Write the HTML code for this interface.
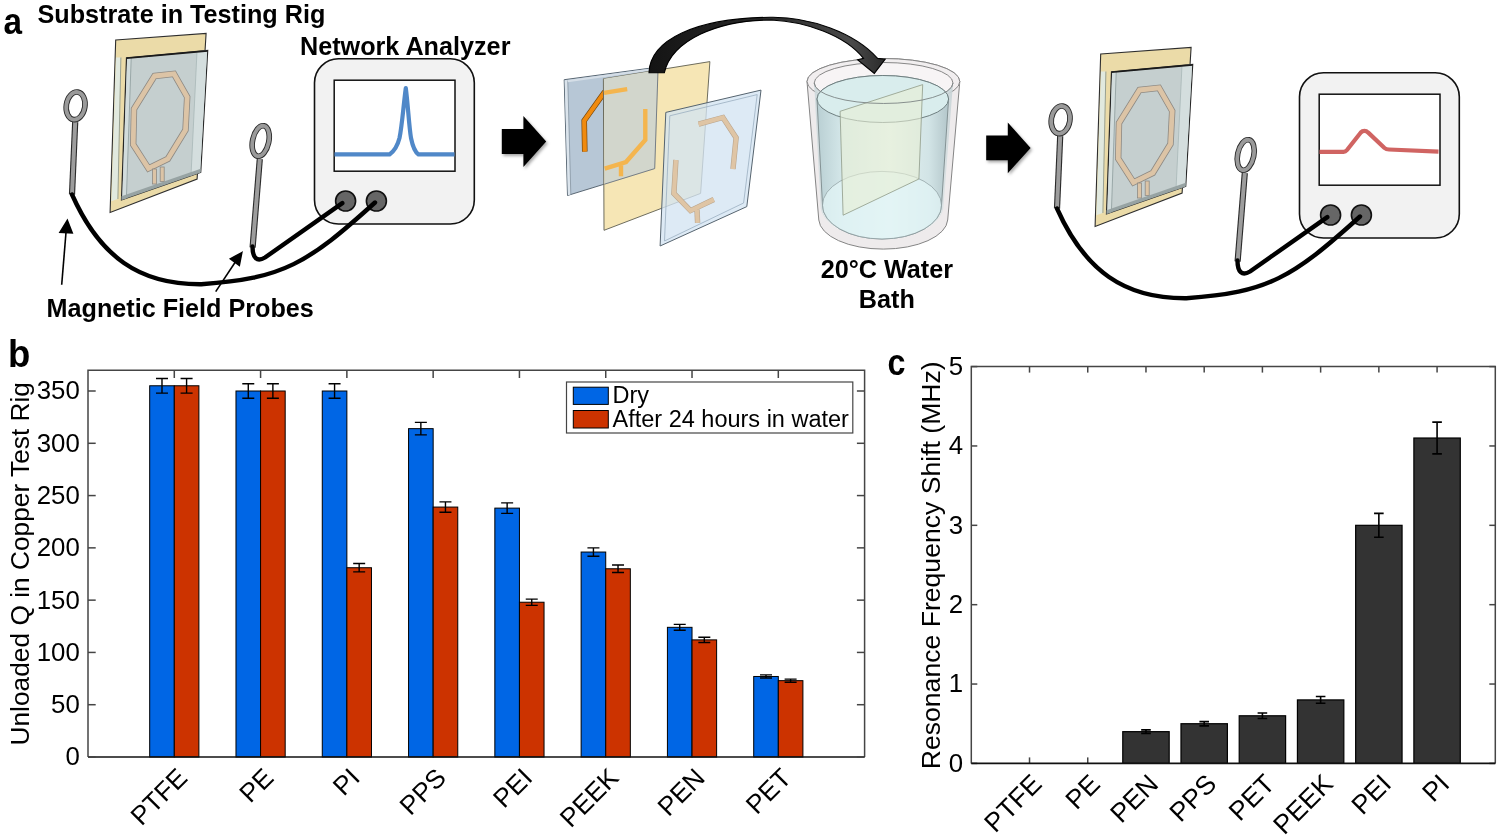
<!DOCTYPE html>
<html><head><meta charset="utf-8"><title>Figure</title>
<style>
html,body{margin:0;padding:0;background:#fff;width:1500px;height:839px;overflow:hidden}
svg{display:block;font-family:"Liberation Sans", sans-serif;will-change:transform}
</style></head><body>
<svg width="1500" height="839" viewBox="0 0 1500 839">
<defs>
<filter id="sh" x="-20%" y="-20%" width="150%" height="150%"><feDropShadow dx="1.5" dy="2" stdDeviation="1.5" flood-color="#000" flood-opacity="0.35"/></filter>
<linearGradient id="water" x1="0" y1="0" x2="1" y2="0">
 <stop offset="0" stop-color="#b9cfd3"/><stop offset="0.2" stop-color="#d5e8ea"/><stop offset="0.55" stop-color="#e6f4f2"/><stop offset="0.85" stop-color="#d2e4e6"/><stop offset="1" stop-color="#b3c6ca"/>
</linearGradient>
<linearGradient id="wall" x1="0" y1="0" x2="1" y2="0">
 <stop offset="0" stop-color="#c9d6d9"/><stop offset="0.15" stop-color="#eef2f2"/><stop offset="0.85" stop-color="#eef2f2"/><stop offset="1" stop-color="#c5d2d5"/>
</linearGradient>
<linearGradient id="arrowg" x1="649" y1="0" x2="886" y2="0" gradientUnits="userSpaceOnUse">
 <stop offset="0" stop-color="#141414"/><stop offset="0.5" stop-color="#2a2a2a"/><stop offset="0.85" stop-color="#4a4a4a"/><stop offset="1" stop-color="#2a2a2a"/>
</linearGradient>
</defs>
<rect width="1500" height="839" fill="#fff"/>
<g transform="translate(0,0)">
<polygon points="115.7,40 206.1,33.4 197.1,179 110.1,212.4" fill="#ebdba8" stroke="#2e2e2e" stroke-width="1.1"/>
<polygon points="116,57.5 120.6,57.5 117.6,199 111.4,201.2" fill="#e1e9df"/>
<line x1="120.9" y1="57.5" x2="117.9" y2="199" stroke="#8f9a90" stroke-width="0.9"/>
<polygon points="126.5,57.8 207.7,50.4 200.7,172.4 121.5,199.9" fill="#c5cfcf" stroke="#262626" stroke-width="1.2"/>
<polygon points="127.2,58 131.2,57.7 126.4,198.2 122.3,199.5" fill="#d2dcdc"/>
<line x1="131.2" y1="58" x2="126.4" y2="198" stroke="#8d9c9c" stroke-width="0.8"/>
<polygon points="197,51.3 207.2,50.5 200.2,172.2 191,175.6" fill="#d4dede"/>
<line x1="197" y1="51.3" x2="191" y2="175.6" stroke="#a3b3b3" stroke-width="0.7"/>
<line x1="126.5" y1="58.3" x2="207.7" y2="50.9" stroke="#1a1a1a" stroke-width="1.6"/>
<polygon points="121.5,196.3 200.7,168.8 200.7,172.4 121.5,199.9" fill="#97a3a3"/>
<polygon points="154.5,76 174,73.8 187.2,97 185.5,130 167.8,159 148.5,168.4 133.2,144.5 134,109" fill="none" stroke="#8e8a84" stroke-width="6.4" stroke-linejoin="miter"/>
<polygon points="154.5,76 174,73.8 187.2,97 185.5,130 167.8,159 148.5,168.4 133.2,144.5 134,109" fill="none" stroke="#dcc4a6" stroke-width="4.8" stroke-linejoin="miter"/>
<rect x="152.5" y="169" width="4" height="15" fill="#dcc4a6" stroke="#8e8a84" stroke-width="0.8"/>
<rect x="160.2" y="167" width="4" height="14.5" fill="#dcc4a6" stroke="#8e8a84" stroke-width="0.8"/>
</g>
<g transform="translate(0,0)">
<line x1="75.2" y1="122" x2="72" y2="194.5" stroke="#2a2a2a" stroke-width="6.2"/>
<line x1="75.2" y1="122" x2="72" y2="194.5" stroke="#9d9d9d" stroke-width="4"/>
<ellipse cx="75.6" cy="105.8" rx="9.3" ry="13.900000000000002" transform="rotate(9 75.6 105.8)" fill="none" stroke="#2a2a2a" stroke-width="5.6"/>
<ellipse cx="75.6" cy="105.8" rx="9.3" ry="13.900000000000002" transform="rotate(9 75.6 105.8)" fill="none" stroke="#9a9a9a" stroke-width="3.8"/>
<line x1="259.8" y1="159" x2="252.6" y2="247.5" stroke="#2a2a2a" stroke-width="6.2"/>
<line x1="259.8" y1="159" x2="252.6" y2="247.5" stroke="#9d9d9d" stroke-width="4"/>
<ellipse cx="260.7" cy="141" rx="8.100000000000001" ry="15.5" transform="rotate(12 260.7 141)" fill="none" stroke="#2a2a2a" stroke-width="5.6"/>
<ellipse cx="260.7" cy="141" rx="8.100000000000001" ry="15.5" transform="rotate(12 260.7 141)" fill="none" stroke="#9a9a9a" stroke-width="3.8"/>
</g>
<g transform="translate(0,0)">
<rect x="314.5" y="58.8" width="159.8" height="165.2" rx="24" ry="24" fill="#f2f2f2" stroke="#111" stroke-width="1.6"/>
<rect x="334.2" y="80.2" width="120.8" height="91" fill="#fff" stroke="#111" stroke-width="1.5"/>
<path d="M334.5,154.4 L389.5,154.4 C393,152 397,148 399.5,138 C402,126 403.5,105 405.8,88 C408,105 409,126 411,138 C413,148 415,152 418.5,154.4 L454.5,154.4" fill="none" stroke="#5088c8" stroke-width="4.2" stroke-linejoin="round" stroke-linecap="butt"/>
<circle cx="345.6" cy="201" r="10" fill="#666" stroke="#111" stroke-width="1.6"/>
<circle cx="376.4" cy="201" r="10" fill="#666" stroke="#111" stroke-width="1.6"/>
</g>
<g transform="translate(0,0)" fill="none" stroke="#000" stroke-width="4.4" stroke-linecap="round" stroke-linejoin="round">
<path d="M72,194.5 C99.8,256.9 139.6,284.7 201.3,284.2 C283.2,278.7 307.6,263.4 375,202.5"/>
<path d="M252.5,246.5 C252.5,258 257,262.5 265,257.5 L342.3,203.1"/>
</g>
<g transform="translate(985,14)">
<polygon points="115.7,40 206.1,33.4 197.1,179 110.1,212.4" fill="#ebdba8" stroke="#2e2e2e" stroke-width="1.1"/>
<polygon points="116,57.5 120.6,57.5 117.6,199 111.4,201.2" fill="#e1e9df"/>
<line x1="120.9" y1="57.5" x2="117.9" y2="199" stroke="#8f9a90" stroke-width="0.9"/>
<polygon points="126.5,57.8 207.7,50.4 200.7,172.4 121.5,199.9" fill="#c5cfcf" stroke="#262626" stroke-width="1.2"/>
<polygon points="127.2,58 131.2,57.7 126.4,198.2 122.3,199.5" fill="#d2dcdc"/>
<line x1="131.2" y1="58" x2="126.4" y2="198" stroke="#8d9c9c" stroke-width="0.8"/>
<polygon points="197,51.3 207.2,50.5 200.2,172.2 191,175.6" fill="#d4dede"/>
<line x1="197" y1="51.3" x2="191" y2="175.6" stroke="#a3b3b3" stroke-width="0.7"/>
<line x1="126.5" y1="58.3" x2="207.7" y2="50.9" stroke="#1a1a1a" stroke-width="1.6"/>
<polygon points="121.5,196.3 200.7,168.8 200.7,172.4 121.5,199.9" fill="#97a3a3"/>
<polygon points="154.5,76 174,73.8 187.2,97 185.5,130 167.8,159 148.5,168.4 133.2,144.5 134,109" fill="none" stroke="#8e8a84" stroke-width="6.4" stroke-linejoin="miter"/>
<polygon points="154.5,76 174,73.8 187.2,97 185.5,130 167.8,159 148.5,168.4 133.2,144.5 134,109" fill="none" stroke="#dcc4a6" stroke-width="4.8" stroke-linejoin="miter"/>
<rect x="152.5" y="169" width="4" height="15" fill="#dcc4a6" stroke="#8e8a84" stroke-width="0.8"/>
<rect x="160.2" y="167" width="4" height="14.5" fill="#dcc4a6" stroke="#8e8a84" stroke-width="0.8"/>
</g>
<g transform="translate(985,14)">
<line x1="75.2" y1="122" x2="72" y2="194.5" stroke="#2a2a2a" stroke-width="6.2"/>
<line x1="75.2" y1="122" x2="72" y2="194.5" stroke="#9d9d9d" stroke-width="4"/>
<ellipse cx="75.6" cy="105.8" rx="9.3" ry="13.900000000000002" transform="rotate(9 75.6 105.8)" fill="none" stroke="#2a2a2a" stroke-width="5.6"/>
<ellipse cx="75.6" cy="105.8" rx="9.3" ry="13.900000000000002" transform="rotate(9 75.6 105.8)" fill="none" stroke="#9a9a9a" stroke-width="3.8"/>
<line x1="259.8" y1="159" x2="252.6" y2="247.5" stroke="#2a2a2a" stroke-width="6.2"/>
<line x1="259.8" y1="159" x2="252.6" y2="247.5" stroke="#9d9d9d" stroke-width="4"/>
<ellipse cx="260.7" cy="141" rx="8.100000000000001" ry="15.5" transform="rotate(12 260.7 141)" fill="none" stroke="#2a2a2a" stroke-width="5.6"/>
<ellipse cx="260.7" cy="141" rx="8.100000000000001" ry="15.5" transform="rotate(12 260.7 141)" fill="none" stroke="#9a9a9a" stroke-width="3.8"/>
</g>
<g transform="translate(985,14)">
<rect x="314.5" y="58.8" width="159.8" height="165.2" rx="24" ry="24" fill="#f2f2f2" stroke="#111" stroke-width="1.6"/>
<rect x="334.2" y="80.2" width="120.8" height="91" fill="#fff" stroke="#111" stroke-width="1.5"/>
<path d="M334.5,137.8 L358.5,137.8 Q360.5,137.8 362,136 L375.8,118.5 Q377.2,116.9 379.5,116.9 Q381.5,116.9 383,118.4 L399.5,134 Q401.2,135.4 404,135.5 L453.5,137.6" fill="none" stroke="#d06462" stroke-width="4.2" stroke-linejoin="round" stroke-linecap="butt"/>
<circle cx="345.6" cy="201" r="10" fill="#666" stroke="#111" stroke-width="1.6"/>
<circle cx="376.4" cy="201" r="10" fill="#666" stroke="#111" stroke-width="1.6"/>
</g>
<g transform="translate(985,14)" fill="none" stroke="#000" stroke-width="4.4" stroke-linecap="round" stroke-linejoin="round">
<path d="M72,194.5 C99.8,256.9 139.6,284.7 201.3,284.2 C283.2,278.7 307.6,263.4 375,202.5"/>
<path d="M252.5,246.5 C252.5,258 257,262.5 265,257.5 L342.3,203.1"/>
</g>
<g stroke="#000" stroke-width="1.6" fill="#000">
<line x1="61.7" y1="284.8" x2="66.2" y2="230"/>
<polygon points="67.3,220.3 60,232.3 72.2,232.8"/>
<line x1="215.7" y1="291.6" x2="236" y2="261"/>
<polygon points="241.8,252.6 230.4,258.8 239.3,265.4"/>
</g>
<g filter="url(#sh)">
<polygon points="501.8,129.1 523.4,129.1 523.4,116.1 546.2,141.5 523.4,166.9 523.4,153.9 501.8,153.9" fill="#000"/>
<polygon points="986.2,135.5 1007.8000000000001,135.5 1007.8000000000001,122.5 1030.6000000000001,147.9 1007.8000000000001,173.3 1007.8000000000001,160.3 986.2,160.3" fill="#000"/>
</g>

<g>
 <polygon points="564.2,79.7 658,67.1 654.7,168.6 567.5,195.5" fill="#b7c7d6" stroke="#5a6874" stroke-width="1"/>
 <polygon points="564.6,80.2 567.6,80 570.6,194.6 567.9,195.3" fill="#dbe4ec"/>
 <line x1="567.8" y1="80.5" x2="570.8" y2="194.5" stroke="#7f8e9b" stroke-width="0.7"/>
 <polygon points="567.6,80 658,67.6 658,69.6 567.8,82.2" fill="#d5dee7"/>
 <g fill="none" stroke-linejoin="miter">
  <polyline points="627.2,89.2 604,92.9 584.2,120.7 584.8,151.6" stroke="#7a4a10" stroke-width="5.6"/>
  <polyline points="627.2,89.2 604,92.9 584.2,120.7 584.8,151.6" stroke="#f08a0e" stroke-width="4.2"/>
  <polyline points="645.3,109 645.3,139.9 626,162 604.7,168.6" stroke="#f08a0e" stroke-width="4.6"/>
  <polyline points="621,165.3 621,176.3" stroke="#f08a0e" stroke-width="4.6"/>
 </g>
 <polygon points="603.4,78.8 709.9,61.6 700.6,193.4 604,230.3" fill="#f5e3ad" fill-opacity="0.9" stroke="#5d5d50" stroke-width="0.9"/>
 <polygon points="603.9,78.8 658,70.1 654.7,168.6 604.4,184.2" fill="#d2d6cc"/>
 <g fill="none" stroke="#f4b54e" stroke-width="4.4">
  <polyline points="604,92.9 627.2,89.2"/>
  <polyline points="645.3,109 645.3,139.9 626,162 604.7,168.6"/>
  <polyline points="621,165.3 621,176.3"/>
 </g>
 <line x1="658" y1="70.1" x2="654.7" y2="168.6" stroke="#6a7480" stroke-width="0.9"/>
 <line x1="654.7" y1="168.6" x2="604.4" y2="184.2" stroke="#6a7480" stroke-width="0.9"/>
 <polygon points="665.8,112.4 761,90.1 746.8,206.6 660.1,246" fill="#d3e4f2" fill-opacity="0.78" stroke="#56646f" stroke-width="1"/>
 <polygon points="669.8,115.8 757.2,94.6 743.6,203 664.5,241" fill="none" stroke="#9aaec0" stroke-width="0.8"/>
 <g fill="none" stroke-linejoin="miter">
  <polyline points="698.6,124.1 722.9,117.5 736.1,137.7 733,169.1" stroke="#b9a58e" stroke-width="5.4"/>
  <polyline points="675.9,160 673.9,193.4 690.5,210.6 713.8,199.5" stroke="#b9a58e" stroke-width="5.4"/>
  <polyline points="697,209.6 697.6,222.8" stroke="#b9a58e" stroke-width="5.4"/>
  <polyline points="698.6,124.1 722.9,117.5 736.1,137.7 733,169.1" stroke="#dfc5a5" stroke-width="4.2"/>
  <polyline points="675.9,160 673.9,193.4 690.5,210.6 713.8,199.5" stroke="#dfc5a5" stroke-width="4.2"/>
  <polyline points="697,209.6 697.6,222.8" stroke="#dfc5a5" stroke-width="4.2"/>
 </g>
</g>


<g>
 <path d="M807,81.5 L818.8,220 A64.5,30.3 0 0 0 947.7,220 L959.8,81.5 A76.4,23 0 0 0 807,81.5 Z" fill="#eeebec" stroke="#858585" stroke-width="1"/>
 <ellipse cx="883.4" cy="81.5" rx="76.4" ry="23" fill="#f1eeef" stroke="#858585" stroke-width="1"/>
 <ellipse cx="883.6" cy="83" rx="69.4" ry="20.5" fill="#f7f4f5" stroke="#7a7a7a" stroke-width="0.9"/>
 <path d="M814.2,83 L820.5,205.2 A61.5,33.8 0 0 0 943.5,205.2 L953,83 A69.4,20.5 0 0 1 814.2,83 Z" fill="url(#wall)" opacity="0.9"/>
 <path d="M817,99 L822.5,205.2 A59.5,33.8 0 0 0 941.5,205.2 L948.6,99 A65.8,23.5 0 0 0 817,99 Z" fill="url(#water)" stroke="#7c8a8c" stroke-width="0.9"/>
 <ellipse cx="882.8" cy="99" rx="65.8" ry="23.5" fill="#d9eded" stroke="#6f7f80" stroke-width="1"/>
 <ellipse cx="882" cy="205.2" rx="59.5" ry="33.8" fill="#e2f4f5" fill-opacity="0.75" stroke="#8a9a9c" stroke-width="0.7"/>
 <polygon points="840.1,111.3 922.7,84.6 918.9,179 843.1,215.2" fill="#e8efd3" fill-opacity="0.6" stroke="#8f9a88" stroke-width="0.8"/>
 <path d="M814.2,83 A69.4,20.5 0 0 0 953,83" fill="none" stroke="#7d8585" stroke-width="0.9"/>
</g>

<path d="M649,72.8 C650,40 695,18 770,17.3 C810,16.5 855,33 877.6,58.4 L885.2,59.2 L874.3,73.4 L857.6,59.7 L863.5,58.4 C845,35 805,21.5 771.5,20 C718,20 672,40 664.3,72.8 Z" fill="url(#arrowg)" stroke="#000" stroke-width="1.1" stroke-linejoin="miter"/>
<text transform="translate(3.6,33.6) scale(0.9,1)" font-size="37" font-weight="bold">a</text>
<text x="37.50" y="22.70" font-size="25.2" font-weight="bold" text-anchor="start" >Substrate in Testing Rig</text>
<text x="300.00" y="55.00" font-size="25.2" font-weight="bold" text-anchor="start" >Network Analyzer</text>
<text x="46.50" y="317.30" font-size="25.2" font-weight="bold" text-anchor="start" >Magnetic Field Probes</text>
<text x="886.80" y="278.20" font-size="25.2" font-weight="bold" text-anchor="middle" >20°C Water</text>
<text x="886.80" y="307.80" font-size="25.2" font-weight="bold" text-anchor="middle" >Bath</text>
<rect x="88.0" y="370.3" width="776.6" height="386.7" fill="#fff"/>
<rect x="149.69" y="385.77" width="24.6" height="371.23" fill="#0066e5" stroke="#000" stroke-width="1"/>
<rect x="174.29" y="385.77" width="24.6" height="371.23" fill="#cc3300" stroke="#000" stroke-width="1"/>
<rect x="235.98" y="391.00" width="24.6" height="366.00" fill="#0066e5" stroke="#000" stroke-width="1"/>
<rect x="260.58" y="391.00" width="24.6" height="366.00" fill="#cc3300" stroke="#000" stroke-width="1"/>
<rect x="322.27" y="391.00" width="24.6" height="366.00" fill="#0066e5" stroke="#000" stroke-width="1"/>
<rect x="346.87" y="567.73" width="24.6" height="189.27" fill="#cc3300" stroke="#000" stroke-width="1"/>
<rect x="408.56" y="428.65" width="24.6" height="328.35" fill="#0066e5" stroke="#000" stroke-width="1"/>
<rect x="433.16" y="507.07" width="24.6" height="249.93" fill="#cc3300" stroke="#000" stroke-width="1"/>
<rect x="494.84" y="508.12" width="24.6" height="248.88" fill="#0066e5" stroke="#000" stroke-width="1"/>
<rect x="519.44" y="602.23" width="24.6" height="154.77" fill="#cc3300" stroke="#000" stroke-width="1"/>
<rect x="581.13" y="552.04" width="24.6" height="204.96" fill="#0066e5" stroke="#000" stroke-width="1"/>
<rect x="605.73" y="568.77" width="24.6" height="188.23" fill="#cc3300" stroke="#000" stroke-width="1"/>
<rect x="667.42" y="627.33" width="24.6" height="129.67" fill="#0066e5" stroke="#000" stroke-width="1"/>
<rect x="692.02" y="639.88" width="24.6" height="117.12" fill="#cc3300" stroke="#000" stroke-width="1"/>
<rect x="753.71" y="676.48" width="24.6" height="80.52" fill="#0066e5" stroke="#000" stroke-width="1"/>
<rect x="778.31" y="680.66" width="24.6" height="76.34" fill="#cc3300" stroke="#000" stroke-width="1"/>
<path d="M161.99,378.45 V393.09 M155.99,378.45 H167.99 M155.99,393.09 H167.99" stroke="#000" stroke-width="1.4" fill="none"/>
<path d="M186.59,378.45 V393.09 M180.59,378.45 H192.59 M180.59,393.09 H192.59" stroke="#000" stroke-width="1.4" fill="none"/>
<path d="M248.28,383.68 V398.32 M242.28,383.68 H254.28 M242.28,398.32 H254.28" stroke="#000" stroke-width="1.4" fill="none"/>
<path d="M272.88,383.68 V398.32 M266.88,383.68 H278.88 M266.88,398.32 H278.88" stroke="#000" stroke-width="1.4" fill="none"/>
<path d="M334.57,383.68 V398.32 M328.57,383.68 H340.57 M328.57,398.32 H340.57" stroke="#000" stroke-width="1.4" fill="none"/>
<path d="M359.17,563.54 V571.91 M353.17,563.54 H365.17 M353.17,571.91 H365.17" stroke="#000" stroke-width="1.4" fill="none"/>
<path d="M420.86,422.37 V434.92 M414.86,422.37 H426.86 M414.86,434.92 H426.86" stroke="#000" stroke-width="1.4" fill="none"/>
<path d="M445.46,501.85 V512.30 M439.46,501.85 H451.46 M439.46,512.30 H451.46" stroke="#000" stroke-width="1.4" fill="none"/>
<path d="M507.14,502.89 V513.35 M501.14,502.89 H513.14 M501.14,513.35 H513.14" stroke="#000" stroke-width="1.4" fill="none"/>
<path d="M531.74,599.10 V605.37 M525.74,599.10 H537.74 M525.74,605.37 H537.74" stroke="#000" stroke-width="1.4" fill="none"/>
<path d="M593.43,547.86 V556.22 M587.43,547.86 H599.43 M587.43,556.22 H599.43" stroke="#000" stroke-width="1.4" fill="none"/>
<path d="M618.03,565.01 V572.54 M612.03,565.01 H624.03 M612.03,572.54 H624.03" stroke="#000" stroke-width="1.4" fill="none"/>
<path d="M679.72,624.40 V630.26 M673.72,624.40 H685.72 M673.72,630.26 H685.72" stroke="#000" stroke-width="1.4" fill="none"/>
<path d="M704.32,637.27 V642.49 M698.32,637.27 H710.32 M698.32,642.49 H710.32" stroke="#000" stroke-width="1.4" fill="none"/>
<path d="M766.01,674.91 V678.05 M760.01,674.91 H772.01 M760.01,678.05 H772.01" stroke="#000" stroke-width="1.4" fill="none"/>
<path d="M790.61,679.09 V682.23 M784.61,679.09 H796.61 M784.61,682.23 H796.61" stroke="#000" stroke-width="1.4" fill="none"/>
<path d="M88.0,757.0 V370.3 H864.6 V757.0" fill="none" stroke="#454545" stroke-width="1.5"/>
<line x1="88.0" y1="757.0" x2="864.6" y2="757.0" stroke="#111" stroke-width="1.6"/>
<line x1="88.0" y1="757.00" x2="95.7" y2="757.00" stroke="#454545" stroke-width="1.5"/>
<line x1="864.6" y1="757.00" x2="856.9" y2="757.00" stroke="#454545" stroke-width="1.5"/>
<text x="79.80" y="765.40" font-size="25.8" font-weight="normal" text-anchor="end" >0</text>
<line x1="88.0" y1="704.71" x2="95.7" y2="704.71" stroke="#454545" stroke-width="1.5"/>
<line x1="864.6" y1="704.71" x2="856.9" y2="704.71" stroke="#454545" stroke-width="1.5"/>
<text x="79.80" y="713.11" font-size="25.8" font-weight="normal" text-anchor="end" >50</text>
<line x1="88.0" y1="652.43" x2="95.7" y2="652.43" stroke="#454545" stroke-width="1.5"/>
<line x1="864.6" y1="652.43" x2="856.9" y2="652.43" stroke="#454545" stroke-width="1.5"/>
<text x="79.80" y="660.83" font-size="25.8" font-weight="normal" text-anchor="end" >100</text>
<line x1="88.0" y1="600.14" x2="95.7" y2="600.14" stroke="#454545" stroke-width="1.5"/>
<line x1="864.6" y1="600.14" x2="856.9" y2="600.14" stroke="#454545" stroke-width="1.5"/>
<text x="79.80" y="608.54" font-size="25.8" font-weight="normal" text-anchor="end" >150</text>
<line x1="88.0" y1="547.86" x2="95.7" y2="547.86" stroke="#454545" stroke-width="1.5"/>
<line x1="864.6" y1="547.86" x2="856.9" y2="547.86" stroke="#454545" stroke-width="1.5"/>
<text x="79.80" y="556.26" font-size="25.8" font-weight="normal" text-anchor="end" >200</text>
<line x1="88.0" y1="495.57" x2="95.7" y2="495.57" stroke="#454545" stroke-width="1.5"/>
<line x1="864.6" y1="495.57" x2="856.9" y2="495.57" stroke="#454545" stroke-width="1.5"/>
<text x="79.80" y="503.97" font-size="25.8" font-weight="normal" text-anchor="end" >250</text>
<line x1="88.0" y1="443.29" x2="95.7" y2="443.29" stroke="#454545" stroke-width="1.5"/>
<line x1="864.6" y1="443.29" x2="856.9" y2="443.29" stroke="#454545" stroke-width="1.5"/>
<text x="79.80" y="451.69" font-size="25.8" font-weight="normal" text-anchor="end" >300</text>
<line x1="88.0" y1="391.00" x2="95.7" y2="391.00" stroke="#454545" stroke-width="1.5"/>
<line x1="864.6" y1="391.00" x2="856.9" y2="391.00" stroke="#454545" stroke-width="1.5"/>
<text x="79.80" y="399.40" font-size="25.8" font-weight="normal" text-anchor="end" >350</text>
<line x1="174.29" y1="370.3" x2="174.29" y2="378.0" stroke="#454545" stroke-width="1.5"/>
<text transform="translate(175.19,765.8) rotate(-45)" font-size="26.2" text-anchor="end" dominant-baseline="hanging">PTFE</text>
<line x1="260.58" y1="370.3" x2="260.58" y2="378.0" stroke="#454545" stroke-width="1.5"/>
<text transform="translate(261.48,765.8) rotate(-45)" font-size="26.2" text-anchor="end" dominant-baseline="hanging">PE</text>
<line x1="346.87" y1="370.3" x2="346.87" y2="378.0" stroke="#454545" stroke-width="1.5"/>
<text transform="translate(347.77,765.8) rotate(-45)" font-size="26.2" text-anchor="end" dominant-baseline="hanging">PI</text>
<line x1="433.16" y1="370.3" x2="433.16" y2="378.0" stroke="#454545" stroke-width="1.5"/>
<text transform="translate(434.06,765.8) rotate(-45)" font-size="26.2" text-anchor="end" dominant-baseline="hanging">PPS</text>
<line x1="519.44" y1="370.3" x2="519.44" y2="378.0" stroke="#454545" stroke-width="1.5"/>
<text transform="translate(520.34,765.8) rotate(-45)" font-size="26.2" text-anchor="end" dominant-baseline="hanging">PEI</text>
<line x1="605.73" y1="370.3" x2="605.73" y2="378.0" stroke="#454545" stroke-width="1.5"/>
<text transform="translate(606.63,765.8) rotate(-45)" font-size="26.2" text-anchor="end" dominant-baseline="hanging">PEEK</text>
<line x1="692.02" y1="370.3" x2="692.02" y2="378.0" stroke="#454545" stroke-width="1.5"/>
<text transform="translate(692.92,765.8) rotate(-45)" font-size="26.2" text-anchor="end" dominant-baseline="hanging">PEN</text>
<line x1="778.31" y1="370.3" x2="778.31" y2="378.0" stroke="#454545" stroke-width="1.5"/>
<text transform="translate(779.21,765.8) rotate(-45)" font-size="26.2" text-anchor="end" dominant-baseline="hanging">PET</text>
<rect x="566.5" y="382" width="286.3" height="51" fill="#fff" stroke="#454545" stroke-width="1.2"/>
<rect x="573.3" y="387.2" width="35" height="17.2" fill="#0066e5" stroke="#000" stroke-width="1"/>
<rect x="573.3" y="410.5" width="35" height="17.5" fill="#cc3300" stroke="#000" stroke-width="1"/>
<text x="612.50" y="403.20" font-size="23.5" font-weight="normal" text-anchor="start" >Dry</text>
<text x="612.50" y="427.20" font-size="23.5" font-weight="normal" text-anchor="start" >After 24 hours in water</text>
<text transform="translate(28.8,563.75) rotate(-90)" font-size="26.3" text-anchor="middle">Unloaded Q in Copper Test Rig</text>
<text transform="translate(8,367.1) scale(0.95,1)" font-size="38.5" font-weight="bold">b</text>
<rect x="971.3" y="366.6" width="524.0" height="396.79999999999995" fill="#fff"/>
<rect x="1122.77" y="731.66" width="46.4" height="31.74" fill="#333333" stroke="#000" stroke-width="1.2"/>
<rect x="1180.99" y="723.72" width="46.4" height="39.68" fill="#333333" stroke="#000" stroke-width="1.2"/>
<rect x="1239.21" y="715.78" width="46.4" height="47.62" fill="#333333" stroke="#000" stroke-width="1.2"/>
<rect x="1297.43" y="699.91" width="46.4" height="63.49" fill="#333333" stroke="#000" stroke-width="1.2"/>
<rect x="1355.66" y="525.32" width="46.4" height="238.08" fill="#333333" stroke="#000" stroke-width="1.2"/>
<rect x="1413.88" y="438.02" width="46.4" height="325.38" fill="#333333" stroke="#000" stroke-width="1.2"/>
<path d="M1145.97,729.91 V733.40 M1141.17,729.91 H1150.77 M1141.17,733.40 H1150.77" stroke="#000" stroke-width="1.6" fill="none"/>
<path d="M1204.19,721.58 V725.86 M1199.39,721.58 H1208.99 M1199.39,725.86 H1208.99" stroke="#000" stroke-width="1.6" fill="none"/>
<path d="M1262.41,713.01 V718.56 M1257.61,713.01 H1267.21 M1257.61,718.56 H1267.21" stroke="#000" stroke-width="1.6" fill="none"/>
<path d="M1320.63,696.50 V703.32 M1315.83,696.50 H1325.43 M1315.83,703.32 H1325.43" stroke="#000" stroke-width="1.6" fill="none"/>
<path d="M1378.86,513.42 V537.22 M1374.06,513.42 H1383.66 M1374.06,537.22 H1383.66" stroke="#000" stroke-width="1.6" fill="none"/>
<path d="M1437.08,422.15 V453.90 M1432.28,422.15 H1441.88 M1432.28,453.90 H1441.88" stroke="#000" stroke-width="1.6" fill="none"/>
<path d="M971.3,763.4 V366.6 H1495.3 V763.4" fill="none" stroke="#454545" stroke-width="1.5"/>
<line x1="971.3" y1="763.40" x2="977.3" y2="763.40" stroke="#454545" stroke-width="1.5"/>
<line x1="1495.3" y1="763.40" x2="1489.3" y2="763.40" stroke="#454545" stroke-width="1.5"/>
<text x="963.20" y="771.60" font-size="25.8" font-weight="normal" text-anchor="end" >0</text>
<line x1="971.3" y1="684.04" x2="977.3" y2="684.04" stroke="#454545" stroke-width="1.5"/>
<line x1="1495.3" y1="684.04" x2="1489.3" y2="684.04" stroke="#454545" stroke-width="1.5"/>
<text x="963.20" y="692.24" font-size="25.8" font-weight="normal" text-anchor="end" >1</text>
<line x1="971.3" y1="604.68" x2="977.3" y2="604.68" stroke="#454545" stroke-width="1.5"/>
<line x1="1495.3" y1="604.68" x2="1489.3" y2="604.68" stroke="#454545" stroke-width="1.5"/>
<text x="963.20" y="612.88" font-size="25.8" font-weight="normal" text-anchor="end" >2</text>
<line x1="971.3" y1="525.32" x2="977.3" y2="525.32" stroke="#454545" stroke-width="1.5"/>
<line x1="1495.3" y1="525.32" x2="1489.3" y2="525.32" stroke="#454545" stroke-width="1.5"/>
<text x="963.20" y="533.52" font-size="25.8" font-weight="normal" text-anchor="end" >3</text>
<line x1="971.3" y1="445.96" x2="977.3" y2="445.96" stroke="#454545" stroke-width="1.5"/>
<line x1="1495.3" y1="445.96" x2="1489.3" y2="445.96" stroke="#454545" stroke-width="1.5"/>
<text x="963.20" y="454.16" font-size="25.8" font-weight="normal" text-anchor="end" >4</text>
<line x1="971.3" y1="366.60" x2="977.3" y2="366.60" stroke="#454545" stroke-width="1.5"/>
<line x1="1495.3" y1="366.60" x2="1489.3" y2="366.60" stroke="#454545" stroke-width="1.5"/>
<text x="963.20" y="374.80" font-size="25.8" font-weight="normal" text-anchor="end" >5</text>
<line x1="1029.52" y1="366.6" x2="1029.52" y2="372.6" stroke="#454545" stroke-width="1.5"/>
<line x1="1029.52" y1="763.4" x2="1029.52" y2="757.4" stroke="#454545" stroke-width="1.5"/>
<text transform="translate(1029.82,772.0) rotate(-45)" font-size="26.6" text-anchor="end" dominant-baseline="hanging">PTFE</text>
<line x1="1087.74" y1="366.6" x2="1087.74" y2="372.6" stroke="#454545" stroke-width="1.5"/>
<line x1="1087.74" y1="763.4" x2="1087.74" y2="757.4" stroke="#454545" stroke-width="1.5"/>
<text transform="translate(1088.04,772.0) rotate(-45)" font-size="26.6" text-anchor="end" dominant-baseline="hanging">PE</text>
<line x1="1145.97" y1="366.6" x2="1145.97" y2="372.6" stroke="#454545" stroke-width="1.5"/>
<text transform="translate(1146.27,772.0) rotate(-45)" font-size="26.6" text-anchor="end" dominant-baseline="hanging">PEN</text>
<line x1="1204.19" y1="366.6" x2="1204.19" y2="372.6" stroke="#454545" stroke-width="1.5"/>
<text transform="translate(1204.49,772.0) rotate(-45)" font-size="26.6" text-anchor="end" dominant-baseline="hanging">PPS</text>
<line x1="1262.41" y1="366.6" x2="1262.41" y2="372.6" stroke="#454545" stroke-width="1.5"/>
<text transform="translate(1262.71,772.0) rotate(-45)" font-size="26.6" text-anchor="end" dominant-baseline="hanging">PET</text>
<line x1="1320.63" y1="366.6" x2="1320.63" y2="372.6" stroke="#454545" stroke-width="1.5"/>
<text transform="translate(1320.93,772.0) rotate(-45)" font-size="26.6" text-anchor="end" dominant-baseline="hanging">PEEK</text>
<line x1="1378.86" y1="366.6" x2="1378.86" y2="372.6" stroke="#454545" stroke-width="1.5"/>
<text transform="translate(1379.16,772.0) rotate(-45)" font-size="26.6" text-anchor="end" dominant-baseline="hanging">PEI</text>
<line x1="1437.08" y1="366.6" x2="1437.08" y2="372.6" stroke="#454545" stroke-width="1.5"/>
<text transform="translate(1437.38,772.0) rotate(-45)" font-size="26.6" text-anchor="end" dominant-baseline="hanging">PI</text>
<line x1="971.3" y1="763.4" x2="1495.3" y2="763.4" stroke="#111" stroke-width="1.8"/>
<text transform="translate(940.3,565.3) rotate(-90)" font-size="26.6" text-anchor="middle">Resonance Frequency Shift (MHz)</text>
<text transform="translate(887.4,374.8) scale(0.86,1)" font-size="37.5" font-weight="bold">c</text>
</svg>
</body></html>
